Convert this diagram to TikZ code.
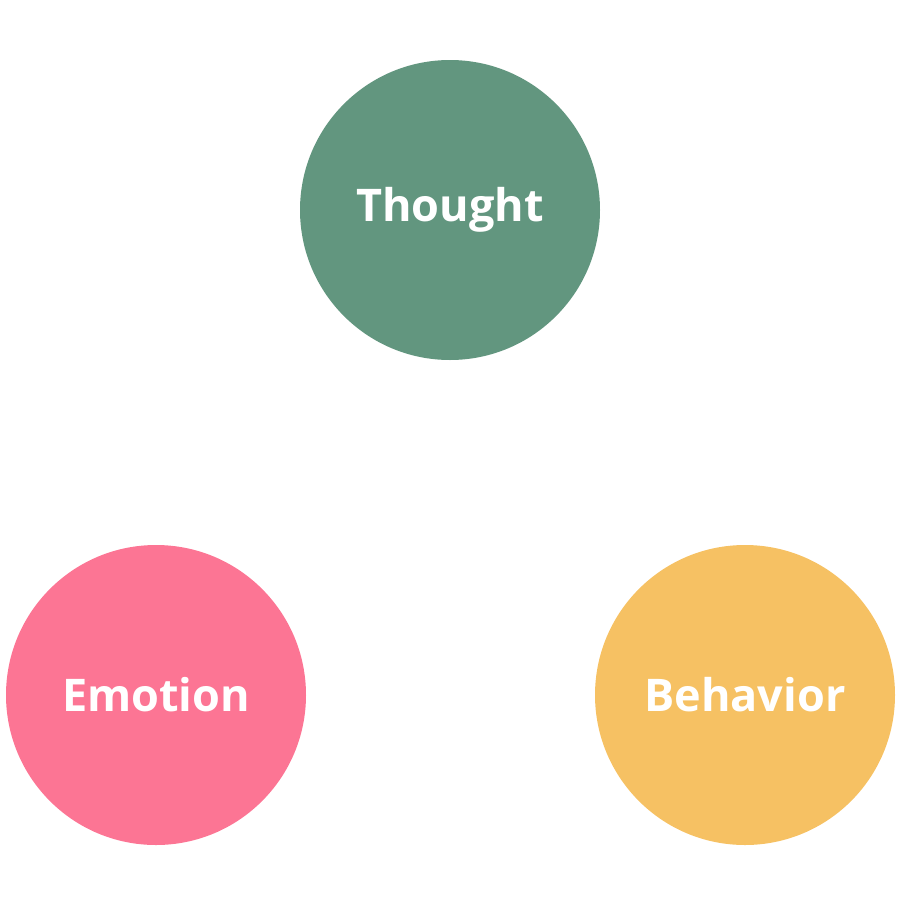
\documentclass[tikz,border=0pt]{standalone}
\usepackage{fontspec}
\setmainfont{Open Sans}
\definecolor{thoughtc}{HTML}{62967F}
\definecolor{emotionc}{HTML}{FC7594}
\definecolor{behavc}{HTML}{F6C163}
\begin{document}
\begin{tikzpicture}[x=1pt,y=-1pt,
  bubble/.style={circle,minimum size=300pt,inner sep=0pt,text=white,font=\fontsize{45}{49}\selectfont\bfseries}]
\useasboundingbox (0,0) rectangle (900,900);
\node[bubble,fill=thoughtc] (thought) at (450,210) {\raisebox{-1.5pt}{Thought}};
\node[bubble,fill=emotionc] (emotion) at (156,695) {Emotion};
\node[bubble,fill=behavc] (behavior) at (745,695) {Behavior};
\end{tikzpicture}
\end{document}
